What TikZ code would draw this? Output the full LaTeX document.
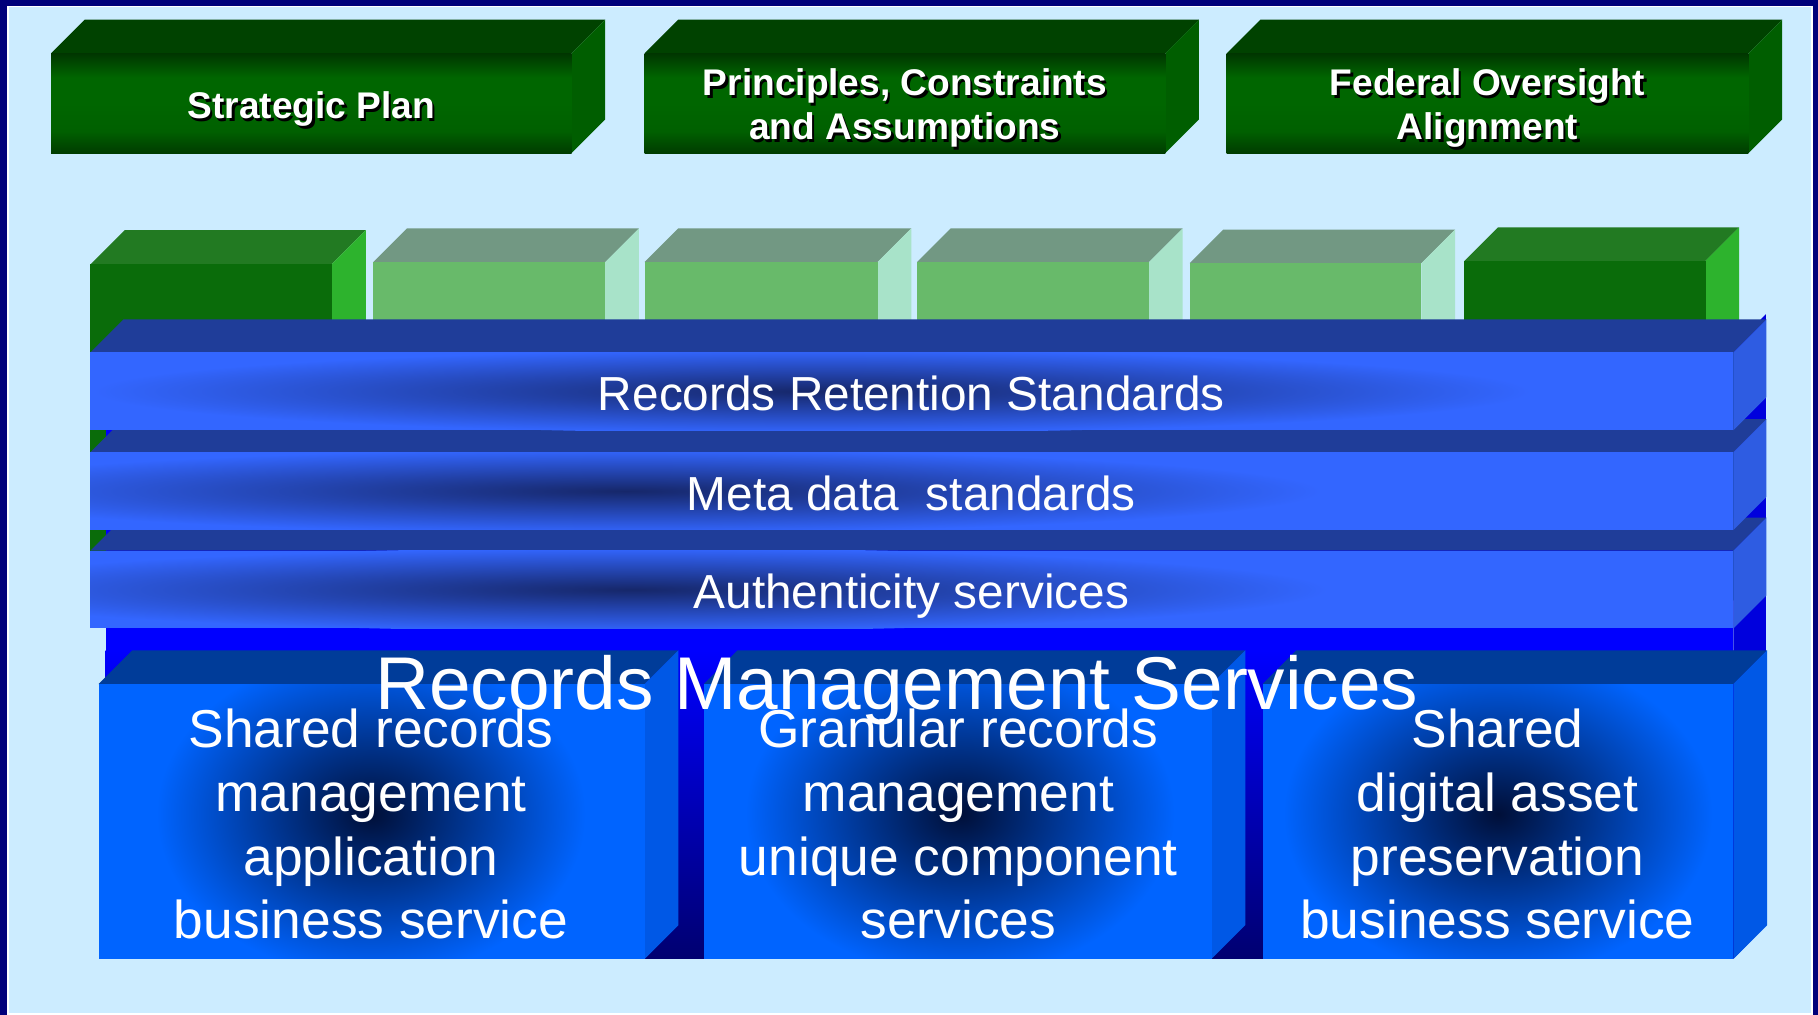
\documentclass[tikz,border=0pt]{standalone}
\usepackage{fontspec}
\setmainfont{Liberation Sans}
\definecolor{framec}{HTML}{00007A}
\definecolor{bgc}{HTML}{CCECFF}
\definecolor{tbtop}{HTML}{004200}
\definecolor{tbside}{HTML}{005E00}
\definecolor{tbdarkt}{HTML}{003600}
\definecolor{tbdarkb}{HTML}{003C00}
\definecolor{tbmid}{HTML}{006600}
\definecolor{tbmidb}{HTML}{006000}
\definecolor{dgtop}{HTML}{227A22}
\definecolor{dgfront}{HTML}{0A6C0A}
\definecolor{dgside}{HTML}{2DB32D}
\definecolor{lgtop}{HTML}{729883}
\definecolor{lgfront}{HTML}{68BA6A}
\definecolor{lgside}{HTML}{A8E3C9}
\definecolor{bartop}{HTML}{1F3D99}
\definecolor{barfront}{HTML}{3366FF}
\definecolor{barside}{HTML}{2E5CE2}
\definecolor{bardark}{HTML}{16276A}
\definecolor{blkfront}{HTML}{0000FF}
\definecolor{blkdeep}{HTML}{000070}
\definecolor{blkside}{HTML}{0000DD}
\definecolor{bxtop}{HTML}{003C99}
\definecolor{bxfront}{HTML}{0064FF}
\definecolor{bxside}{HTML}{0058E6}
\definecolor{bxdark}{HTML}{000F38}

\pgfdeclareverticalshading{tbshade}{100bp}{color(0bp)=(tbdarkb); color(25bp)=(tbdarkb); color(36bp)=(tbmidb); color(50bp)=(tbmid); color(63bp)=(tbmid); color(75bp)=(tbdarkt); color(100bp)=(tbdarkt)}

% cuboid: x1 y1 x2 y2 depth frontstyle topstyle sidestyle
\newcommand\mkcuboid[8]{%
  \path[#7] (#1,#2) -- (#1+#5,#2-#5) -- (#3+#5,#2-#5) -- (#3,#2) -- cycle;
  \path[#8] (#3,#2) -- (#3+#5,#2-#5) -- (#3+#5,#4-#5) -- (#3,#4) -- cycle;
  \path[#6] (#1,#2) rectangle (#3,#4);
}
% bar: front top y, dark centre x, dark half-length
\newcommand\mkbar[3]{%
  \mkcuboid{78}{#1}{1495}{#1+67}{28.5}{fill=barfront}{fill=bartop}{fill=barside}
  \begin{scope}
    \clip (78,#1) rectangle (1495,#1+67);
    \shade[inner color=bardark, outer color=barfront] (#2,#1+33.5) ellipse [x radius=#3pt, y radius=36pt];
  \end{scope}
}
% bottom box: x1 x2 dark centre x
\newcommand\mkbottom[3]{%
  \mkcuboid{#1}{590}{#2}{827}{29}{fill=bxfront}{fill=bxtop}{fill=bxside}
  \begin{scope}
    \clip (#1,590) rectangle (#2,827);
    \shade[inner color=bxdark, outer color=bxfront] (#3,702) ellipse [x radius=185pt, y radius=140pt];
  \end{scope}
}

\begin{document}
\begin{tikzpicture}[x=1pt,y=-1pt,
  tbtext/.style={font=\bfseries\fontsize{32}{38}\selectfont, text=white, align=center, inner sep=0pt},
  tbshadow/.style={tbtext, text=black},
  tbfront/.style={shading=tbshade},
  bartext/.style={font=\fontsize{41.2}{49}\selectfont, text=white, inner sep=0pt, anchor=base},
  bxtext/.style={font=\fontsize{46}{55}\selectfont, text=white, align=center, inner sep=0pt, anchor=north},
  titletext/.style={font=\fontsize{64.5}{77}\selectfont, text=white, inner sep=0pt, anchor=base}]
\useasboundingbox (0,0) rectangle (1568,875);
% frame
\fill[framec] (0,0) rectangle (1568,875);
\path[fill=bgc, draw=white, line width=1.5pt] (6.75,5.5) rectangle (1563,874.3);

% top boxes
\mkcuboid{44}{46}{493}{132}{29}{tbfront}{fill=tbtop}{fill=tbside}
\mkcuboid{556}{46}{1005}{132}{29}{tbfront}{fill=tbtop}{fill=tbside}
\mkcuboid{1058}{46}{1508}{132}{29}{tbfront}{fill=tbtop}{fill=tbside}

\node[tbshadow, anchor=base] (sp-sh) at (270.5,104.5) {Strategic Plan};
\node[tbtext, anchor=base] (sp) at (268.5,102.5) {Strategic Plan};
\node[tbshadow, anchor=north] (pca-sh) at (782.5,57.9) {\strut Principles, Constraints\\\strut and Assumptions};
\node[tbtext, anchor=north] (pca) at (780.5,55.9) {\strut Principles, Constraints\\\strut and Assumptions};
\node[tbshadow, anchor=north] (foa-sh) at (1285,57.9) {\strut Federal Oversight\\\strut Alignment};
\node[tbtext, anchor=north] (foa) at (1283,55.9) {\strut Federal Oversight\\\strut Alignment};

% green cubes
\mkcuboid{78}{228}{286}{542}{29.5}{fill=dgfront}{fill=dgtop}{fill=dgside}
\mkcuboid{322}{226}{522}{542}{29}{fill=lgfront}{fill=lgtop}{fill=lgside}
\mkcuboid{556}{226}{757}{542}{29}{fill=lgfront}{fill=lgtop}{fill=lgside}
\mkcuboid{791}{226}{991}{542}{29}{fill=lgfront}{fill=lgtop}{fill=lgside}
\mkcuboid{1026}{227}{1226}{542}{29}{fill=lgfront}{fill=lgtop}{fill=lgside}
\mkcuboid{1263}{225}{1471}{542}{29}{fill=dgfront}{fill=dgtop}{fill=dgside}

% blue block behind bars and boxes
\fill[blkfront] (91,300) rectangle (1495,827);
\shade[top color=blkfront, bottom color=blkdeep] (91,561) rectangle (1495,827);
\fill[blkside] (1495,300) -- (1523,271) -- (1523,798) -- (1495,827) -- cycle;

% bars (bottom first)
\mkbar{475}{545}{600}
\mkbar{390}{540}{600}
\mkbar{304}{700}{620}

\node[bartext] (rrs) at (786,354) {Records Retention Standards};
\node[bartext] (mds) at (786,440) {Meta data\ \ standards};
\node[bartext] (aus) at (786,525) {Authenticity services};

% bottom boxes
\mkbottom{85}{556}{320}
\mkbottom{607}{1045}{828}
\mkbottom{1089}{1495}{1292}

\node[titletext] (rms) at (773.5,611.6) {Records Management Services};

\node[bxtext] (srm) at (320,606) {\strut Shared records\\\strut management\\\strut application\\\strut business service};
\node[bxtext] (grm) at (826.5,606) {\strut Granular records\\\strut management\\\strut unique component\\\strut services};
\node[bxtext] (sdp) at (1291.5,606) {\strut Shared\\\strut digital asset\\\strut preservation\\\strut business service};
\end{tikzpicture}
\end{document}
